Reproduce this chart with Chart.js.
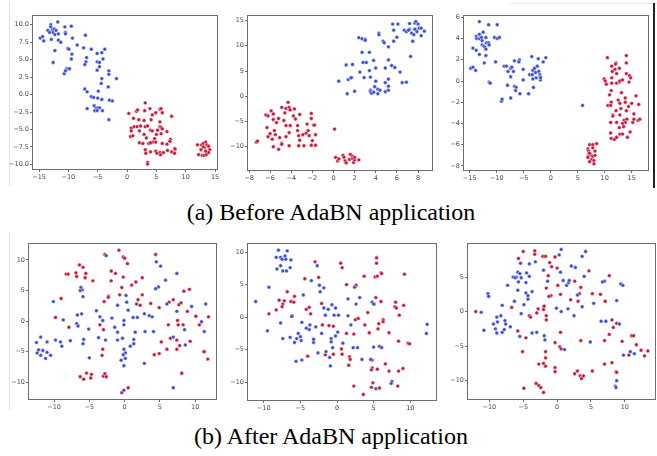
<!DOCTYPE html>
<html lang="en">
<head>
<meta charset="UTF-8">
<title>t-SNE before / after AdaBN</title>
<script src="https://cdn.jsdelivr.net/npm/chart.js"></script>
<style>
  body { margin: 0; width: 657px; height: 456px; background: #fff; position: relative; overflow: hidden; }
  canvas { position: absolute; }
  .cap { position: absolute; left: 0; width: 662px; text-align: center; font-family: "Liberation Serif", "Times New Roman", serif; font-size: 24px; line-height: 27px; color: #000; }
  .edge { position: absolute; }
</style>
</head>
<body>
<div class="edge" style="left:9px;top:2px;width:1px;height:184px;background:#e2e2e2"></div>
<div class="edge" style="left:9px;top:232px;width:1px;height:178px;background:#e2e2e2"></div>
<div class="edge" style="left:510px;top:3px;width:147px;height:1px;background:#ececec"></div>
<div class="edge" style="left:653px;top:3px;width:2px;height:185px;background:#222"></div>
<div class="cap" style="top:199px">(a) Before AdaBN application</div>
<div class="cap" style="top:423px">(b) After AdaBN application</div>

<canvas id="c1"></canvas>
<canvas id="c2"></canvas>
<canvas id="c3"></canvas>
<canvas id="c4"></canvas>
<canvas id="c5"></canvas>
<canvas id="c6"></canvas>

<script>
// ---- data: (a) before AdaBN ----
const p1XTicks = [-15, -10, -5, 0, 5, 10, 15];
const p1YTicks = [-10, -7.5, -5, -2.5, 0, 2.5, 5, 7.5, 10];
const p1Blue = [[-14.8,8.1],[-14.4,8.3],[-14.2,7.7],[-13.5,9.2],[-13.2,8.9],[-13.0,10.0],[-13.0,9.7],[-12.7,9.3],[-12.6,8.9],[-12.4,9.4],[-12.3,8.6],[-12.1,9.2],[-12.9,7.9],[-11.8,10.4],[-11.7,8.7],[-11.7,7.8],[-11.3,7.5],[-10.6,9.7],[-10.5,8.9],[-10.5,8.7],[-9.5,9.8],[-9.3,8.1],[-12.3,6.3],[-12.6,4.6],[-10.1,6.6],[-9.9,6.5],[-8.5,7.1],[-7.1,8.5],[-7.4,6.7],[-6.1,6.5],[-9.4,5.8],[-9.5,5.1],[-10.3,3.7],[-10.1,3.7],[-9.8,3.7],[-10.7,3.0],[-10.5,3.4],[-6.9,5.3],[-7.0,4.7],[-7.2,4.3],[-5.1,5.9],[-4.3,6.0],[-3.8,6.5],[-4.1,5.1],[-5.1,4.7],[-4.7,4.6],[-4.7,4.0],[-5.1,3.5],[-3.1,3.4],[-3.1,2.9],[-4.3,2.3],[-1.8,2.3],[-4.4,1.6],[-3.2,1.1],[-7.2,0.8],[-6.8,0.4],[-6.1,-0.3],[-5.7,-0.4],[-5.0,-0.5],[-4.9,0.5],[-4.3,-0.7],[-3.0,-0.8],[-2.5,-0.9],[-6.8,-2.0],[-5.6,-1.6],[-5.3,-1.9],[-5.0,-1.9],[-4.7,-1.9],[-5.5,-2.3],[-5.1,-2.3],[-4.2,-2.3],[-3.1,-3.6]];
const p1Red = [[3.1,-1.2],[0.3,-2.7],[1.6,-2.4],[1.8,-2.2],[3.0,-2.3],[3.9,-2.0],[5.6,-2.1],[5.8,-2.0],[4.9,-2.6],[6.0,-2.6],[7.6,-3.1],[1.1,-3.4],[2.0,-3.6],[2.9,-3.7],[4.3,-2.9],[4.1,-3.6],[5.6,-3.9],[0.7,-4.8],[1.2,-4.6],[1.7,-4.6],[2.3,-4.5],[3.1,-4.6],[3.5,-4.5],[0.7,-5.2],[0.6,-6.0],[1.0,-5.9],[2.1,-5.2],[2.9,-5.7],[4.0,-5.1],[4.3,-5.2],[5.2,-5.1],[5.6,-4.6],[5.8,-4.7],[6.0,-4.9],[5.8,-5.6],[6.8,-5.3],[5.0,-5.7],[4.7,-6.3],[3.3,-6.2],[2.1,-6.9],[2.7,-7.0],[3.7,-7.0],[4.4,-6.8],[4.9,-6.8],[6.0,-7.0],[6.8,-7.1],[7.4,-6.4],[7.3,-6.7],[8.1,-7.7],[8.2,-7.8],[3.1,-7.9],[3.2,-8.4],[4.0,-8.2],[4.9,-8.1],[5.1,-8.4],[5.6,-8.3],[5.7,-8.6],[6.2,-8.3],[6.9,-8.0],[7.6,-8.2],[8.1,-8.4],[3.5,-9.7],[3.5,-9.95],[4.0,-6.9],[12.0,-7.2],[12.7,-7.2],[13.0,-7.0],[13.4,-6.8],[13.6,-7.2],[13.9,-7.4],[14.1,-7.9],[13.2,-7.6],[12.6,-7.9],[12.2,-8.6],[12.8,-8.7],[13.1,-8.7],[13.5,-8.6],[13.9,-8.3],[13.4,-8.1],[13.0,-7.5]];

const p2XTicks = [-8, -6, -4, -2, 0, 2, 4, 6, 8];
const p2YTicks = [-10, -5, 0, 5, 10, 15];
const p2Blue = [[0.5,3.0],[1.3,0.5],[1.2,6.2],[1.8,6.3],[1.4,3.3],[1.6,3.6],[1.7,3.7],[2.0,1.0],[2.4,11.6],[2.7,11.4],[3.0,11.3],[3.0,11.1],[2.7,8.7],[3.4,8.7],[2.8,6.7],[3.1,6.7],[2.5,4.8],[2.9,3.7],[3.4,5.1],[3.5,3.8],[3.8,7.1],[4.0,5.6],[4.0,3.0],[4.3,12.5],[4.3,12.2],[3.9,1.9],[4.2,1.4],[3.5,1.2],[3.5,0.9],[3.6,0.6],[3.8,0.8],[4.2,0.5],[4.4,1.2],[4.7,10.9],[4.8,10.6],[5.2,9.8],[5.2,7.2],[4.9,5.6],[4.9,2.7],[4.9,0.9],[5.2,3.4],[5.2,2.0],[5.2,1.2],[5.5,6.1],[5.8,5.7],[6.3,4.8],[5.7,10.9],[6.0,11.7],[5.6,14.3],[6.1,14.3],[5.7,13.1],[6.5,2.7],[6.9,2.8],[6.7,13.1],[6.9,12.8],[7.2,13.3],[7.2,14.4],[7.7,14.5],[7.8,14.8],[8.0,14.3],[7.8,13.1],[7.9,12.8],[8.1,13.5],[8.3,13.5],[7.7,13.3],[8.6,12.9],[8.3,12.0],[7.4,12.5],[7.6,12.2],[7.5,10.9],[7.3,7.9],[7.1,13.1]];
const p2Red = [[-7.3,-9.1],[-7.2,-8.9],[-6.4,-3.7],[-6.2,-3.9],[-6.3,-6.2],[-6.2,-8.0],[-6.0,-7.4],[-5.9,-2.9],[-5.7,-3.5],[-5.7,-4.6],[-5.6,-6.8],[-5.8,-8.5],[-5.7,-10.0],[-5.5,-7.6],[-5.4,-5.2],[-5.2,-4.4],[-5.2,-10.5],[-5.1,-8.2],[-4.9,-2.2],[-4.9,-9.3],[-4.9,-9.5],[-4.7,-4.8],[-4.6,-3.3],[-4.5,-2.4],[-4.5,-5.8],[-4.5,-8.0],[-4.3,-1.2],[-4.2,-2.5],[-4.2,-2.2],[-4.1,-2.7],[-4.2,-9.8],[-4.2,-7.2],[-4.1,-5.8],[-3.8,-3.9],[-3.7,-2.5],[-3.6,-4.5],[-3.4,-5.8],[-3.4,-6.8],[-3.3,-7.8],[-3.3,-9.8],[-3.2,-8.7],[-3.2,-3.6],[-2.9,-7.6],[-2.8,-9.8],[-2.6,-7.3],[-2.5,-5.5],[-2.4,-6.8],[-2.3,-7.8],[-2.1,-3.4],[-2.1,-4.4],[-2.1,-9.7],[-2.0,-8.8],[-1.9,-5.7],[-1.8,-5.7],[-1.7,-9.7],[-1.7,-7.6],[0.1,-6.5],[0.2,-12.1],[0.4,-12.8],[0.5,-12.4],[0.9,-11.7],[1.0,-12.1],[1.1,-12.8],[1.2,-13.2],[1.5,-12.5],[1.6,-11.5],[1.8,-11.9],[1.8,-12.3],[1.9,-13.1],[2.0,-12.6],[2.0,-12.1],[2.4,-12.6]];

const p3XTicks = [-15, -10, -5, 0, 5, 10, 15];
const p3YTicks = [-8, -6, -4, -2, 0, 2, 4, 6];
const p3Blue = [[-13.2,5.6],[-11.5,5.3],[-9.9,5.3],[-12.5,4.6],[-13.2,4.4],[-13.8,4.2],[-13.7,4.0],[-13.2,4.0],[-12.8,4.1],[-12.0,4.1],[-10.4,4.1],[-9.9,4.0],[-9.5,4.1],[-11.9,3.6],[-11.5,3.6],[-11.4,3.4],[-12.7,3.8],[-12.7,3.4],[-12.4,3.3],[-12.2,3.2],[-12.0,3.0],[-14.4,3.1],[-13.8,2.9],[-13.2,2.5],[-12.0,2.4],[-12.3,1.7],[-10.2,1.8],[-14.8,1.2],[-14.4,1.3],[-13.9,1.0],[-11.4,-0.1],[-11.2,-0.2],[-9.1,-1.9],[-9.0,-1.7],[-8.6,1.4],[-8.2,1.4],[-7.9,0.9],[-7.4,1.2],[-7.2,1.3],[-6.7,1.9],[-6.9,0.9],[-7.4,0.4],[-5.8,2.0],[-5.9,1.8],[-5.1,1.1],[-5.1,0.1],[-6.7,-0.5],[-6.4,-0.6],[-6.5,-0.9],[-8.0,-0.4],[-5.7,-1.2],[-7.4,-1.6],[-4.1,-1.2],[-3.5,2.3],[-3.9,0.6],[-3.4,0.6],[-3.3,0.2],[-3.3,1.0],[-3.0,1.2],[-2.8,0.8],[-2.7,0.3],[-3.2,-0.6],[-2.3,2.1],[-2.5,1.4],[-2.2,0.9],[-2.0,0.6],[-1.9,0.4],[-1.9,0.1],[-1.9,0.3],[-1.4,1.8],[-0.9,2.2],[5.9,-2.3]];
const p3Red = [[10.5,2.2],[11.3,1.4],[12.1,1.7],[12.0,1.6],[14.0,1.7],[14.0,2.4],[12.7,1.2],[11.9,1.1],[11.4,0.9],[9.9,0.2],[10.1,0.0],[10.3,-0.3],[11.3,0.3],[11.3,-0.2],[12.2,0.7],[12.2,-0.2],[12.7,-0.1],[12.8,0.0],[13.3,0.1],[14.0,0.7],[14.6,0.5],[14.8,0.3],[14.5,-0.1],[11.2,-0.9],[10.9,-1.3],[13.1,-1.1],[15.8,-1.4],[10.6,-2.3],[11.2,-2.0],[11.1,-2.3],[12.5,-1.8],[13.8,-1.6],[13.8,-2.0],[14.4,-2.4],[15.0,-2.1],[16.3,-2.2],[12.1,-2.8],[13.0,-2.6],[14.0,-2.8],[11.5,-3.2],[11.5,-3.3],[12.8,-3.2],[15.4,-3.1],[13.6,-3.7],[14.1,-3.6],[13.8,-3.9],[15.2,-3.9],[15.4,-3.6],[16.2,-3.7],[16.5,-3.6],[11.1,-3.9],[12.2,-3.9],[13.3,-4.0],[12.7,-4.4],[13.5,-4.3],[11.1,-4.9],[11.2,-5.4],[11.8,-5.5],[12.2,-5.3],[12.8,-5.0],[13.3,-5.0],[14.2,-5.3],[14.7,-4.8],[12.8,-2.1],[7.2,-6.0],[7.8,-6.0],[8.5,-5.9],[6.9,-6.4],[7.8,-6.3],[7.0,-6.6],[7.1,-6.8],[8.2,-6.6],[7.5,-7.0],[7.8,-7.1],[6.9,-7.1],[8.2,-7.0],[6.9,-7.2],[7.6,-7.4],[7.2,-7.6],[8.0,-7.5],[8.0,-7.8],[7.2,-6.8]];

// ---- data: (b) after AdaBN ----
const p4XTicks = [-10, -5, 0, 5, 10];
const p4YTicks = [-10, -5, 0, 5, 10];
const p4Blue = [[-2.6,10.7],[4.5,9.7],[5.1,9.0],[7.4,7.8],[5.8,6.7],[4.8,5.6],[4.4,5.3],[-6.2,5.5],[-6.3,5.0],[-5.9,4.0],[-10.1,3.2],[-4.0,1.7],[-6.1,1.2],[-6.7,1.0],[-8.7,0.2],[-3.5,0.7],[-3.1,0.1],[-1.8,0.5],[-6.8,-0.4],[-6.6,-0.8],[-5.1,-1.3],[-1.4,-1.0],[-0.1,0.1],[-0.1,-0.6],[-1.0,2.6],[0.2,4.2],[0.3,3.1],[0.5,1.8],[1.2,0.6],[1.7,2.8],[1.8,0.6],[2.8,1.2],[3.5,0.9],[3.9,0.7],[6.0,2.8],[7.4,1.6],[9.5,2.4],[11.5,2.8],[10.9,-0.1],[8.5,-1.4],[11.3,-1.7],[8.6,-3.9],[6.9,-2.6],[1.5,-1.8],[2.9,-1.7],[4.1,-1.7],[-3.7,-2.7],[-2.7,-3.1],[-1.0,-1.8],[-1.0,-3.1],[-0.3,-2.8],[1.3,-3.0],[0.8,-4.1],[1.3,-3.7],[-0.1,-4.6],[0.1,-5.2],[-0.2,-5.5],[0.1,-6.1],[-0.5,-6.4],[-0.1,-7.3],[2.8,-6.9],[-5.0,-6.0],[-5.9,-3.7],[-5.8,-3.0],[-7.7,-3.2],[-8.9,-4.1],[-9.1,-3.4],[-9.8,-3.1],[-12.5,-3.5],[-12.4,-5.2],[-12.2,-4.7],[-11.9,-2.6],[-11.6,-4.8],[-11.9,-5.6],[-11.2,-6.1],[-11.0,-5.1],[-10.5,-5.6],[-11.0,-3.4],[-0.1,-11.3],[6.9,-10.9]];
const p4Red = [[-0.8,11.6],[-2.8,10.9],[-0.2,10.5],[0.0,10.3],[0.4,9.4],[4.4,10.9],[-6.4,9.2],[-5.9,8.8],[-5.5,7.8],[-8.3,7.7],[-8.0,7.7],[-6.8,7.3],[-5.6,7.1],[-6.9,7.9],[-4.5,6.6],[-1.9,8.2],[-1.3,7.8],[-1.9,6.6],[-0.2,7.2],[-0.4,5.5],[-0.7,4.3],[2.5,7.1],[1.6,6.4],[1.0,5.9],[-6.0,5.1],[-9.0,3.7],[-9.8,0.6],[-2.3,4.1],[-2.3,3.9],[-2.9,3.2],[2.5,4.3],[1.9,3.5],[2.2,2.6],[3.7,2.9],[4.9,2.2],[6.3,3.1],[6.9,3.5],[7.7,2.7],[8.0,3.0],[8.4,4.9],[9.2,5.2],[8.9,1.6],[10.1,0.8],[10.6,-0.6],[11.9,0.7],[-7.9,-1.0],[-3.5,-0.6],[-3.0,-1.4],[6.2,-0.6],[7.5,0.1],[7.6,-0.6],[8.3,-0.6],[5.2,-3.4],[6.5,-2.8],[7.4,-3.1],[9.3,-3.3],[7.8,-4.0],[6.0,-4.6],[7.4,-4.6],[4.9,-5.3],[4.2,-5.5],[-3.1,-4.6],[-3.2,-5.6],[11.2,-5.0],[11.3,-5.0],[11.8,-6.2],[8.1,-8.6],[-5.4,-8.5],[-4.7,-8.7],[-6.3,-9.1],[-5.8,-9.5],[-4.8,-9.3],[-3.0,-9.0],[-2.8,-8.6],[-2.6,-9.1],[-0.4,-11.7],[0.5,-10.9],[8.1,-8.5]];

const p5XTicks = [-10, -5, 0, 5, 10];
const p5YTicks = [-10, -5, 0, 5, 10];
const p5Blue = [[-8.0,10.3],[-6.8,10.2],[-8.3,9.2],[-7.7,9.2],[-7.1,9.4],[-7.0,8.9],[-7.5,8.9],[-6.3,8.8],[-7.7,7.9],[-8.2,7.4],[-7.4,7.1],[-6.9,7.1],[-6.4,7.6],[-2.7,7.9],[-9.3,4.6],[-11.1,2.4],[-3.5,5.6],[-2.4,4.9],[-1.8,4.5],[-2.3,3.9],[-4.6,3.4],[-1.8,1.4],[-1.2,1.2],[-0.7,1.9],[-0.2,1.4],[-1.6,0.3],[-0.4,0.3],[0.2,0.3],[1.5,0.2],[1.5,2.8],[2.6,2.0],[3.1,3.0],[2.4,4.6],[4.8,2.3],[5.0,2.0],[-6.1,0.2],[-6.2,0.1],[-7.7,-0.9],[-9.5,-2.1],[-7.4,-3.3],[-6.4,-3.1],[-5.5,-3.3],[-5.3,-2.5],[-5.0,-3.0],[-4.9,-3.6],[-5.8,-3.9],[-4.8,-0.8],[-3.7,-1.2],[-3.8,-1.9],[-4.2,-1.7],[-2.9,-1.5],[-3.2,-3.9],[-3.2,-3.4],[-2.1,-2.5],[-0.8,-3.3],[-0.8,-3.8],[-0.6,-4.7],[-0.2,-2.9],[0.1,-2.3],[0.8,-4.0],[1.9,-1.2],[2.2,-4.7],[2.8,-4.7],[5.0,-4.6],[6.1,-4.7],[-2.6,-5.5],[-1.5,-5.3],[-1.0,-6.2],[-0.9,-7.5],[-5.6,-6.8],[-4.8,-6.6],[3.4,-6.5],[4.6,-6.5],[7.5,-9.9],[7.4,-10.2],[5.3,-11.0],[12.3,-1.1],[12.2,-2.5]];
const p5Red = [[-3.0,8.5],[0.5,8.3],[0.7,7.6],[5.4,9.2],[5.4,9.1],[5.4,8.3],[6.0,6.8],[6.1,6.7],[5.2,6.2],[5.5,6.3],[3.7,6.3],[-4.4,5.9],[-2.5,6.1],[9.2,6.6],[1.3,5.0],[2.6,4.9],[-6.8,3.9],[-5.8,3.2],[-7.9,2.6],[-7.2,2.5],[-6.3,2.4],[-5.9,2.3],[-7.4,2.0],[-7.5,1.6],[-8.3,1.1],[-9.3,0.5],[-3.8,1.5],[-4.2,1.2],[-3.6,0.5],[-2.1,2.1],[-2.0,-1.2],[-1.1,-1.3],[-0.5,-1.4],[1.3,-2.5],[2.3,-2.6],[2.5,-0.4],[2.9,-0.2],[3.8,-1.2],[4.2,0.7],[5.3,3.0],[6.0,2.4],[5.1,2.0],[4.4,-2.4],[5.6,-1.8],[5.7,-1.0],[6.3,-0.4],[6.3,-0.7],[7.1,-2.4],[8.0,2.3],[7.9,1.6],[8.1,1.4],[8.5,0.3],[9.1,1.8],[8.4,-3.7],[9.7,-4.0],[9.9,-4.1],[5.8,-4.5],[0.6,-4.9],[0.7,-5.7],[1.7,-6.1],[1.8,-6.5],[1.6,-7.4],[-1.6,-5.8],[-0.5,-5.7],[-4.0,-6.0],[4.8,-6.6],[4.8,-7.8],[4.7,-8.1],[5.5,-8.0],[6.6,-7.2],[7.1,-8.3],[8.4,-8.3],[9.0,-7.9],[4.9,-10.1],[4.7,-10.8],[5.8,-10.9],[8.3,-10.6],[2.3,-10.6],[3.6,-11.9]];

const p6XTicks = [-10, -5, 0, 5, 10];
const p6YTicks = [-10, -5, 0, 5];
const p6Blue = [[0.6,9.0],[4.2,8.7],[0.3,8.2],[3.7,8.0],[-3.2,7.2],[-4.1,6.9],[-5.4,7.0],[-5.8,5.7],[-6.0,5.0],[-5.5,5.5],[-5.3,4.9],[-6.5,5.0],[-6.2,4.9],[-4.5,5.6],[-4.1,5.1],[-4.6,4.2],[-5.7,4.3],[-7.3,3.8],[-5.8,3.1],[-4.6,2.7],[-4.3,2.3],[-3.7,2.9],[-4.3,1.8],[-6.3,1.5],[-8.1,0.9],[-10.2,2.6],[-10.1,2.2],[-4.9,1.0],[-5.3,-0.3],[-2.0,6.0],[-1.4,4.4],[0.5,5.7],[0.9,4.5],[1.4,3.8],[1.7,4.2],[1.8,4.5],[2.1,6.6],[2.7,6.4],[4.0,5.1],[3.0,2.4],[3.7,0.7],[-0.1,0.5],[0.6,0.0],[1.6,0.4],[2.5,-0.6],[-11.2,-0.1],[-10.8,-2.7],[-9.4,-1.8],[-8.9,-0.8],[-8.8,-1.5],[-8.3,-0.6],[-9.1,-2.5],[-8.9,-3.1],[-8.1,-3.0],[-7.8,-2.6],[-7.6,-1.8],[-7.7,-1.3],[-6.9,-2.2],[-5.5,-3.6],[-3.7,-3.1],[-3.0,-3.0],[-1.9,-3.5],[-1.8,-4.1],[1.1,-5.5],[5.4,1.2],[6.5,-1.4],[7.2,-1.4],[7.0,4.4],[6.7,4.3],[8.8,1.6],[9.2,-1.8],[9.4,4.0],[9.7,3.8],[4.9,-4.4],[10.8,-5.8],[11.4,-6.1],[9.8,-6.3],[8.8,-10.0],[8.6,-10.8],[8.7,-11.0]];
const p6Red = [[-5.0,8.7],[-3.3,8.8],[-3.3,8.3],[-5.7,7.7],[-2.1,8.0],[-1.7,8.0],[-0.3,7.9],[-1.1,7.1],[-0.8,6.5],[0.0,6.3],[-1.3,5.2],[4.7,5.9],[7.7,5.2],[2.6,4.4],[3.5,3.5],[0.1,3.8],[-1.6,3.4],[0.5,2.5],[-0.9,2.3],[-1.2,2.2],[3.3,2.6],[5.2,2.6],[6.4,2.5],[3.1,1.5],[2.0,1.7],[7.1,1.5],[-6.7,0.6],[-12.0,0.0],[-2.0,0.7],[-2.0,0.3],[-1.9,0.8],[-2.8,0.4],[-3.0,-0.2],[-4.1,-0.6],[-3.9,-0.8],[-1.6,-0.6],[-1.6,-1.2],[-5.8,-2.8],[-4.6,-3.8],[0.5,-3.0],[-0.3,-4.5],[0.4,-5.1],[0.6,-5.4],[3.5,-4.2],[7.0,-4.2],[8.1,-1.2],[8.8,-1.7],[8.3,-2.3],[7.7,-3.3],[9.6,-4.3],[11.0,-3.5],[11.3,-3.5],[11.7,-4.8],[10.6,-6.3],[12.4,-5.6],[12.9,-6.4],[13.4,-5.7],[-1.7,-5.8],[-1.7,-6.7],[-5.1,-5.8],[-2.7,-7.6],[-2.0,-7.5],[-1.7,-7.9],[-0.3,-8.1],[-0.3,-8.7],[2.6,-9.0],[3.0,-8.6],[3.4,-9.3],[3.7,-9.5],[3.6,-9.7],[3.9,-9.3],[5.2,-8.6],[7.0,-7.6],[8.1,-7.4],[8.7,-8.7],[-3.1,-10.4],[-2.7,-10.7],[-2.4,-11.0],[-2.0,-11.7],[-4.9,-11.1],[8.8,-8.8]];

// ---- layout ----
const BLUE = '#3a4fd4';
const RED = '#c81a3a';
const SPINE = '#6e6e6e';

const panels = [
  { id: 'c1', box: [32, 15, 218, 170], x: [-16.2, 15.5], y: [-10.8, 11.4], xt: p1XTicks, yt: p1YTicks, ydec: 1, blue: p1Blue, red: p1Red },
  { id: 'c2', box: [247, 15, 433, 171], x: [-8.19, 9.42], y: [-14.8, 16.1], xt: p2XTicks, yt: p2YTicks, ydec: 0, blue: p2Blue, red: p2Red },
  { id: 'c3', box: [463, 15, 649, 171], x: [-16.24, 18.2], y: [-8.48, 6.22], xt: p3XTicks, yt: p3YTicks, ydec: 0, blue: p3Blue, red: p3Red },
  { id: 'c4', box: [28, 243, 217, 400], x: [-13.7, 13.1], y: [-12.9, 12.78], xt: p4XTicks, yt: p4YTicks, ydec: 0, blue: p4Blue, red: p4Red },
  { id: 'c5', box: [247, 243, 437, 401], x: [-12.29, 13.65], y: [-12.9, 11.4], xt: p5XTicks, yt: p5YTicks, ydec: 0, blue: p5Blue, red: p5Red },
  { id: 'c6', box: [467, 243, 656, 400], x: [-13.3, 14.6], y: [-12.8, 9.93], xt: p6XTicks, yt: p6YTicks, ydec: 0, blue: p6Blue, red: p6Red }
];

function fmt(v, dec) {
  const s = Math.abs(v).toFixed(dec);
  return (v < 0 ? '\u2212' : '') + s;
}

const frame = {
  id: 'frame',
  afterDraw(chart) {
    const a = chart.chartArea, ctx = chart.ctx;
    ctx.save();
    ctx.strokeStyle = SPINE;
    ctx.lineWidth = 1;
    ctx.strokeRect(Math.round(a.left) + 0.5, Math.round(a.top) + 0.5,
      Math.round(a.right - a.left) - 1, Math.round(a.bottom - a.top) - 1);
    ctx.restore();
  }
};

function axis(range, ticks, dec, isY) {
  return {
    type: 'linear',
    min: range[0],
    max: range[1],
    afterBuildTicks: s => { s.ticks = ticks.map(v => ({ value: v })); },
    afterFit: s => { if (isY) s.width = 24; else s.height = 14; },
    grid: { display: true, drawOnChartArea: false, drawTicks: true, tickLength: 2, color: SPINE },
    border: { display: false },
    ticks: {
      autoSkip: false, maxRotation: 0, padding: 1,
      color: '#4a4a4a',
      font: { family: 'DejaVu Sans', size: 6.5 },
      callback: v => fmt(v, dec)
    }
  };
}

panels.forEach(p => {
  const [l, t, r, b] = p.box;
  const cv = document.getElementById(p.id);
  const w = r - l + 40, h = b - t + 30;
  cv.width = w; cv.height = h;
  cv.style.left = (l - 30) + 'px';
  cv.style.top = (t - 8) + 'px';
  cv.style.width = w + 'px';
  cv.style.height = h + 'px';

  const pts = arr => arr.map(d => ({ x: d[0], y: d[1] }));
  new Chart(cv, {
    type: 'scatter',
    data: {
      datasets: [
        { label: 'source', data: pts(p.blue), backgroundColor: BLUE, borderColor: 'rgba(255,255,255,0.75)', borderWidth: 0.6, pointRadius: 1.9 },
        { label: 'target', data: pts(p.red), backgroundColor: RED, borderColor: 'rgba(255,255,255,0.75)', borderWidth: 0.6, pointRadius: 1.9 }
      ]
    },
    options: {
      responsive: false,
      animation: false,
      devicePixelRatio: 1,
      layout: { padding: { left: 6, top: 8, right: 10, bottom: 8 } },
      plugins: { legend: { display: false }, tooltip: { enabled: false } },
      scales: {
        x: axis(p.x, p.xt, 0, false),
        y: axis(p.y, p.yt, p.ydec, true)
      }
    },
    plugins: [frame]
  });
});
</script>
</body>
</html>
